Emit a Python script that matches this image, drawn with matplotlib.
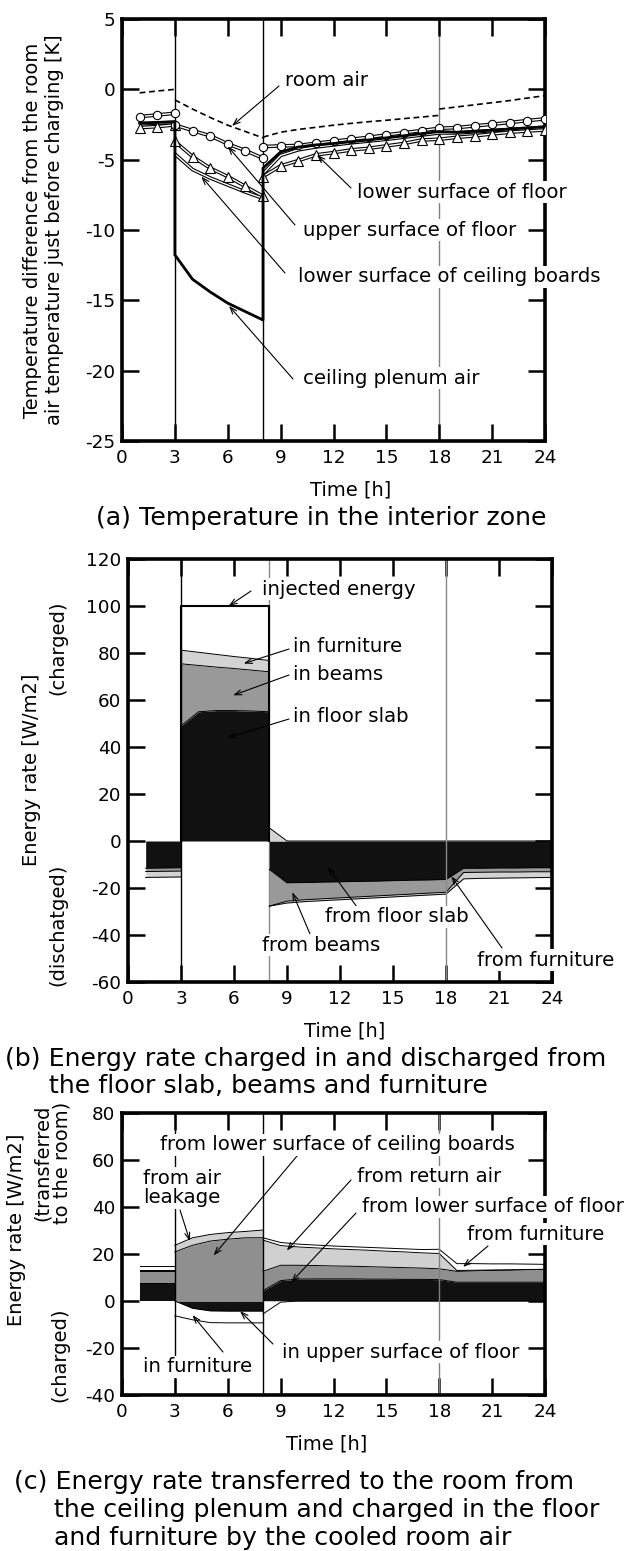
import matplotlib
matplotlib.use('Agg')
import matplotlib.pyplot as plt
import numpy as np

plt.rcParams['font.family'] = ['DejaVu Sans']
plt.rcParams['axes.unicode_minus'] = False

# ------------------------------------------------------------------ data
hours_pre = [1, 2, 3]
hours_chg = [3, 4, 5, 6, 7, 8]
hours_day = [8, 9, 10, 11, 12, 13, 14, 15, 16, 17, 18]
hours_night = [18, 19, 20, 21, 22, 23, 24]
hours_post = [8, 9, 10, 11, 12, 13, 14, 15, 16, 17, 18, 19, 20, 21, 22, 23, 24]
x_ticks = [0, 3, 6, 9, 12, 15, 18, 21, 24]

# (a) temperature difference [K]
room_air_pre = [-0.25, -0.12, 0.0]
room_air_chg = [-0.75, -1.4, -2.0, -2.55, -3.0, -3.45]
room_air_day = [-3.4, -3.05, -2.85, -2.7, -2.55, -2.42, -2.3, -2.2, -2.08, -1.97, -1.85]
room_air_night = [-1.4, -1.25, -1.1, -0.95, -0.8, -0.62, -0.45]

upper_floor_pre = [-1.94, -1.82, -1.7]
upper_floor_chg = [-2.53, -2.93, -3.3, -3.88, -4.35, -4.9]
upper_floor_post = [-4.07, -4.02, -3.99, -3.83, -3.69, -3.55, -3.41, -3.24, -3.08,
                    -2.93, -2.77, -2.72, -2.6, -2.48, -2.36, -2.22, -2.1]

lower_floor_pre = [-2.72, -2.65, -2.53]
lower_floor_chg = [-3.7, -4.78, -5.6, -6.2, -6.9, -7.6]
lower_floor_post = [-6.2, -5.44, -5.07, -4.66, -4.5, -4.31, -4.19, -4.02, -3.85,
                    -3.6, -3.55, -3.41, -3.31, -3.17, -3.05, -2.96, -2.89]

ceiling_board_pre = [-2.45, -2.4, -2.35]
ceiling_board_chg = [-4.6, -5.7, -6.3, -6.8, -7.3, -7.75]
ceiling_board_post = [-6.0, -4.7, -4.3, -4.1, -3.95, -3.8, -3.68, -3.55, -3.4,
                      -3.25, -3.1, -3.1, -3.02, -2.94, -2.86, -2.78, -2.7]

plenum_air_pre = [-2.4, -2.35, -2.3]
plenum_air_chg = [-11.77, -13.5, -14.4, -15.2, -15.8, -16.4]
plenum_air_post = [-5.6, -4.45, -4.1, -3.95, -3.85, -3.72, -3.6, -3.45, -3.3,
                   -3.15, -3.0, -3.05, -2.98, -2.9, -2.82, -2.74, -2.66]

# (b) energy rate charged (+) / discharged (-) [W/m2]
injected_energy = 100.0
slab_b_pre = [-11.6, -11.5, -11.4]
beams_b_pre = [-1.4, -1.4, -1.4]
furn_b_pre = [-2.5, -2.5, -2.5]
slab_b_chg = [49.0, 55.0, 55.5, 55.5, 55.3, 55.0]
beams_b_chg = [26.4, 19.7, 18.5, 17.9, 17.4, 17.0]
furn_b_chg = [5.8, 5.6, 5.4, 5.1, 5.0, 4.8]
slab_b_post = [-12.1, -17.8, -17.7, -17.5, -17.4, -17.2, -17.1, -16.9, -16.7,
               -16.6, -16.4, -11.6, -11.6, -11.5, -11.5, -11.4, -11.4]
beams_b_post = [-15.6, -7.8, -7.3, -7.1, -6.8, -6.6, -6.3, -6.1, -5.9,
                -5.6, -5.4, -1.8, -1.7, -1.7, -1.7, -1.7, -1.7]
furn_b_post = [5.6, -0.8, -0.8, -0.8, -0.8, -0.8, -0.8, -0.8, -0.8,
               -0.8, -0.8, -2.7, -2.6, -2.6, -2.5, -2.5, -2.4]

# (c) energy rate transferred to the room (+) / charged (-) [W/m2]
lowfloor_c_pre = [7.8, 7.8, 7.8]
ceil_c_pre = [4.8, 4.8, 4.8]
return_c_pre = [0.6, 0.6, 0.6]
furn_c_pre = [1.7, 1.7, 1.7]
ceil_c_chg = [20.9, 23.7, 25.5, 26.3, 26.9, 26.9]
leak_c_chg = [2.8, 3.2, 2.8, 2.8, 2.7, 3.3]
upfloor_c_chg = [0.0, -3.1, -4.2, -4.3, -4.3, -4.3]
furnin_c_chg = [-6.3, -4.9, -5.0, -5.0, -5.0, -5.0]
lowfloor_c_post = [4.4, 8.7, 9.3, 9.4, 9.4, 9.4, 9.3, 9.3, 9.2,
                   9.2, 9.1, 8.0, 8.0, 8.0, 8.0, 8.0, 8.0]
ceil_c_post = [8.2, 6.5, 5.9, 5.7, 5.5, 5.4, 5.3, 5.1, 5.0,
               4.8, 4.6, 4.6, 4.8, 5.0, 5.1, 5.3, 5.4]
return_c_post = [13.3, 8.4, 7.8, 7.5, 7.3, 7.1, 7.0, 6.8, 6.7,
                 6.5, 6.5, 0.4, 0.3, 0.2, 0.2, 0.1, 0.1]
furn_c_post = [1.0, 1.3, 1.2, 1.2, 1.2, 1.2, 1.2, 1.3, 1.3,
               1.4, 1.8, 2.9, 2.8, 2.6, 2.5, 2.3, 2.1]
furnin_c_post = [-5.5, -0.5, 0, 0, 0, 0, 0, 0, 0, 0, 0, 0, 0, 0, 0, 0, 0]

# ------------------------------------------------------------------ layout
W, H = 633, 1551
fig = plt.figure(figsize=(W / 100, H / 100), dpi=100)


def fp(x, y):
    return (x / W, 1 - y / H)


def rect(l, t, r, b):
    return [l / W, 1 - b / H, (r - l) / W, (b - t) / H]


TICK_FS = 13.2
FS = 14.2
AX_FS = 14
TFS = 18.2
BLACK = '#111111'


def style(ax, ylim, yticks):
    ax.set_xlim(0, 24)
    ax.set_ylim(*ylim)
    ax.set_xticks(x_ticks)
    ax.set_yticks(yticks)
    ax.tick_params(direction='in', length=12, width=1.8, top=True, right=True,
                   labelsize=TICK_FS, pad=6)
    ax.tick_params(axis='y', pad=5)
    for s in ax.spines.values():
        s.set_linewidth(2.6)


def label(text, x, y, ha='left', **kw):
    fig.text(*fp(x, y), text, ha=ha, va='center', fontsize=FS,
             bbox=dict(facecolor='white', edgecolor='none', pad=1.0), **kw)


def arrow(ax, start, target):
    ax.annotate('', xy=target, xycoords='data', xytext=fp(*start),
                textcoords='figure fraction', annotation_clip=False, zorder=6,
                arrowprops=dict(arrowstyle='->,head_length=0.5,head_width=0.18',
                                lw=0.8, color='black', shrinkA=0, shrinkB=0))


def hollow(ax, x, y, marker=None, ms=6):
    ax.plot(x, y, color='black', lw=2.6, zorder=4, solid_capstyle='butt')
    ax.plot(x, y, color='white', lw=1.0, zorder=4.1, solid_capstyle='butt')
    if marker:
        ax.plot(x, y, ls='none', marker=marker, ms=ms, mfc='white', mec='black',
                mew=0.8, zorder=4.2)


def stack(ax, x, layers, colors, lw=0.7):
    x = np.asarray(x, float)
    pos = np.zeros_like(x)
    neg = np.zeros_like(x)
    for vals, col in zip(layers, colors):
        v = np.asarray(vals, float)
        p = np.clip(v, 0, None)
        n = np.clip(v, None, 0)
        if np.any(p > 0):
            ax.fill_between(x, pos, pos + p, color=col, lw=0, zorder=2)
            ax.plot(x, pos + p, color='black', lw=lw, zorder=2.2)
            pos = pos + p
        if np.any(n < 0):
            ax.fill_between(x, neg, neg + n, color=col, lw=0, zorder=2)
            ax.plot(x, neg + n, color='black', lw=lw, zorder=2.2)
            neg = neg + n


# ------------------------------------------------------------------ (a)
axa = fig.add_axes(rect(122, 19, 545, 441))
style(axa, (-25, 5), [5, 0, -5, -10, -15, -20, -25])
for xv, c in ((3, 'black'), (8, 'black'), (18, '#808080')):
    axa.axvline(xv, color=c, lw=1.0, zorder=1)

hollow(axa, hours_pre, ceiling_board_pre)
hollow(axa, hours_chg, ceiling_board_chg)
hollow(axa, hours_post, ceiling_board_post)
axa.plot(hours_pre + hours_chg + hours_post,
         plenum_air_pre + plenum_air_chg + plenum_air_post,
         color='black', lw=2.0, zorder=4.3)
hollow(axa, hours_pre, lower_floor_pre, '^', 6.5)
hollow(axa, hours_chg, lower_floor_chg, '^', 6.5)
hollow(axa, hours_post, lower_floor_post, '^', 6.5)
hollow(axa, hours_pre, upper_floor_pre, 'o', 6)
hollow(axa, hours_chg, upper_floor_chg, 'o', 6)
hollow(axa, hours_post, upper_floor_post, 'o', 6)
for xs, ys in ((hours_pre, room_air_pre), (hours_chg, room_air_chg),
               (hours_day, room_air_day), (hours_night, room_air_night)):
    axa.plot(xs, ys, color='black', lw=1.2, ls=(0, (3.5, 2.2)), zorder=5)

label('room air', 285, 80)
arrow(axa, (279, 86), (6.24, -2.6))
label('lower surface of floor', 357, 192)
arrow(axa, (351, 188), (11.06, -4.66))
label('upper surface of floor', 303, 230)
arrow(axa, (295, 225), (6.0, -4.05))
label('lower surface of ceiling boards', 298, 277)
arrow(axa, (285, 273), (4.5, -6.2))
label('ceiling plenum air', 303, 378)
arrow(axa, (293, 379), (6.07, -15.4))

fig.text(*fp(44, 230), 'Temperature difference from the room\nair temperature just before charging [K]',
         rotation=90, ha='center', va='center', fontsize=AX_FS, linespacing=1.2)
fig.text(*fp(351, 490), 'Time [h]', ha='center', va='center', fontsize=AX_FS)
fig.text(*fp(321, 518), '(a) Temperature in the interior zone', ha='center',
         va='center', fontsize=TFS)

# ------------------------------------------------------------------ (b)
axb = fig.add_axes(rect(128, 559, 552, 982))
style(axb, (-60, 120), [120, 100, 80, 60, 40, 20, 0, -20, -40, -60])
b_cols = [BLACK, '#999999', '#d3d3d3']
stack(axb, hours_pre, [slab_b_pre, beams_b_pre, furn_b_pre], b_cols)
stack(axb, hours_chg, [slab_b_chg, beams_b_chg, furn_b_chg], b_cols)
stack(axb, hours_post, [slab_b_post, beams_b_post, furn_b_post], b_cols)
axb.plot([3, 3, 8, 8], [0, injected_energy, injected_energy, 0], color='black',
         lw=1.5, zorder=3)
axb.axvline(3, color='black', lw=1.0, zorder=2.5)
axb.axvline(8, color='#8a8a8a', lw=1.0, zorder=1)
axb.axvline(18, color='#8a8a8a', lw=1.0, zorder=2.5)

label('injected energy', 262, 589)
arrow(axb, (251, 591), (5.7, 100))
label('in furniture', 293, 647)
arrow(axb, (289, 649), (6.55, 75.5))
label('in beams', 293, 674)
arrow(axb, (289, 675), (5.95, 62))
label('in floor slab', 293, 717)
arrow(axb, (289, 719), (5.66, 44))
label('from floor slab', 325, 917)
arrow(axb, (357, 907), (11.3, -11))
label('from beams', 262, 945)
arrow(axb, (310, 934), (9.3, -21.8))
label('from furniture', 477, 960)
arrow(axb, (502, 948), (18.3, -15))

fig.text(*fp(32, 770), 'Energy rate [W/m2]', rotation=90, ha='center',
         va='center', fontsize=AX_FS)
fig.text(*fp(58, 648), '(charged)', rotation=90, ha='center', va='center',
         fontsize=AX_FS)
fig.text(*fp(58, 925), '(dischatged)', rotation=90, ha='center', va='center',
         fontsize=AX_FS)
fig.text(*fp(345, 1031), 'Time [h]', ha='center', va='center', fontsize=AX_FS)
fig.text(*fp(5, 1059), '(b) Energy rate charged in and discharged from',
         ha='left', va='center', fontsize=TFS)
fig.text(*fp(49, 1086), 'the floor slab, beams and furniture', ha='left',
         va='center', fontsize=TFS)

# ------------------------------------------------------------------ (c)
axc = fig.add_axes(rect(122, 1113, 545, 1395))
style(axc, (-40, 80), [80, 60, 40, 20, 0, -20, -40])
stack(axc, hours_pre, [lowfloor_c_pre, ceil_c_pre, return_c_pre, furn_c_pre],
      [BLACK, '#8f8f8f', '#d0d0d0', 'white'])
stack(axc, hours_chg, [upfloor_c_chg, ceil_c_chg, leak_c_chg, furnin_c_chg],
      [BLACK, '#8f8f8f', '#d0d0d0', 'white'])
stack(axc, hours_post, [lowfloor_c_post, ceil_c_post, return_c_post, furn_c_post,
                        furnin_c_post],
      [BLACK, '#8f8f8f', '#d0d0d0', 'white', 'white'])
axc.axvline(3, color='black', lw=1.0, zorder=2.5)
axc.axvline(8, color='black', lw=1.0, zorder=2.5)
axc.axvline(18, color='#808080', lw=1.0, zorder=2.5)

label('from lower surface of ceiling boards', 160, 1145)
arrow(axc, (297, 1156), (5.2, 19.4))
fig.text(*fp(143, 1188), 'from air\nleakage', ha='left', va='center',
         fontsize=FS, linespacing=1.05,
         bbox=dict(facecolor='white', edgecolor='none', pad=1.0))
arrow(axc, (180, 1210), (3.85, 25.5))
label('from return air', 357, 1177)
arrow(axc, (351, 1180), (9.35, 21.5))
label('from lower surface of floor', 362, 1207)
arrow(axc, (356, 1213), (9.6, 8.0))
label('from furniture', 467, 1234)
arrow(axc, (488, 1246), (19.35, 14.5))
label('in furniture', 143, 1367)
arrow(axc, (223, 1352), (4.0, -6.0))
label('in upper surface of floor', 282, 1352)
arrow(axc, (273, 1344), (6.7, -4.3))

fig.text(*fp(17, 1230), 'Energy rate [W/m2]', rotation=90, ha='center',
         va='center', fontsize=AX_FS)
fig.text(*fp(52, 1163), '(transferred\nto the room)', rotation=90, ha='center',
         va='center', fontsize=AX_FS, linespacing=1.05)
fig.text(*fp(60, 1355), '(charged)', rotation=90, ha='center', va='center',
         fontsize=AX_FS)
fig.text(*fp(327, 1444), 'Time [h]', ha='center', va='center', fontsize=AX_FS)
fig.text(*fp(14, 1482), '(c) Energy rate transferred to the room from',
         ha='left', va='center', fontsize=TFS)
fig.text(*fp(54, 1510), 'the ceiling plenum and charged in the floor',
         ha='left', va='center', fontsize=TFS)
fig.text(*fp(54, 1538), 'and furniture by the cooled room air',
         ha='left', va='center', fontsize=TFS)

fig.savefig('out.png', dpi=100)
